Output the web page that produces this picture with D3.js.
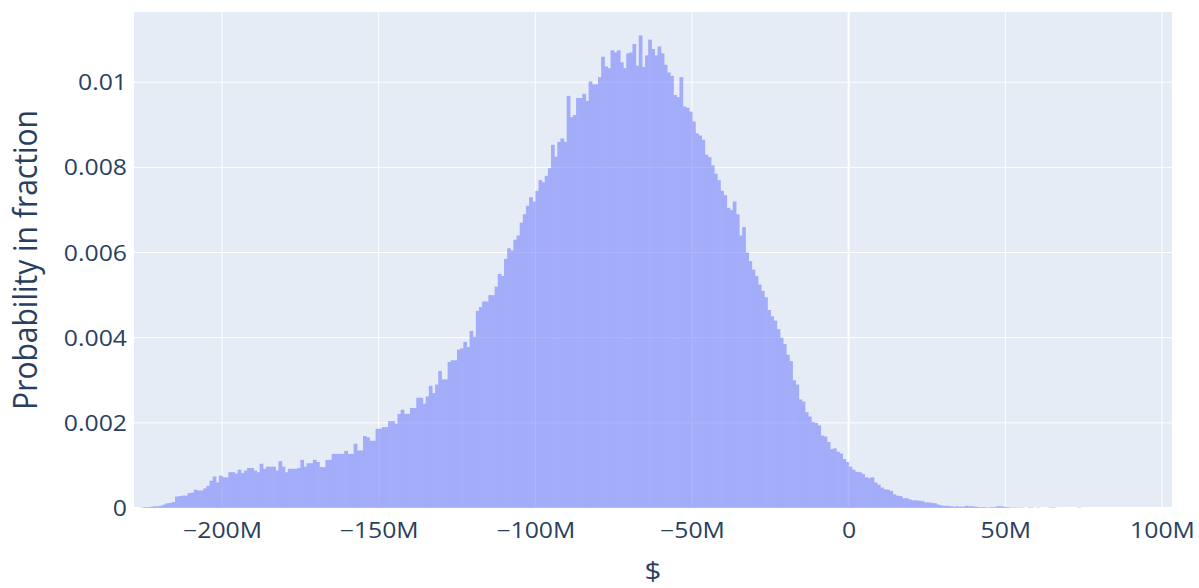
<!DOCTYPE html>
<html>
<head>
<meta charset="utf-8">
<script src="https://cdn.jsdelivr.net/npm/d3@7"></script>
<style>
  html, body { margin: 0; padding: 0; background: #fff; }
  svg { display: block; }
  text { font-family: "Open Sans", "Noto Sans", sans-serif; fill: #2a3f5f; }
</style>
</head>
<body>
<svg id="chart" width="1199" height="588"></svg>
<script>
// Histogram of simulated outcomes ($M), 1M-wide bins starting at -228M.
const binStart = -228;
const binWidth = 1;
// Probability of each bin, in units of 1e-5.
const freqE5 = [
  0,0,1,2,2,3,4,4,5,8,
  11,12,14,27,28,29,29,35,36,43,
  41,41,46,52,64,74,60,76,72,72,
  84,84,81,90,82,88,94,94,88,84,
  104,92,97,97,97,88,110,97,84,92,
  92,92,94,113,97,105,105,113,108,96,
  96,113,113,127,127,127,127,134,127,127,
  151,135,135,169,166,158,158,186,186,190,
  190,204,204,198,221,231,221,221,235,235,
  259,259,245,262,287,270,290,322,302,302,
  343,347,347,372,375,390,378,416,402,463,
  472,485,485,500,500,520,550,545,585,610,
  605,630,640,670,690,710,730,720,745,770,
  765,780,798,853,825,860,868,860,968,918,
  923,963,963,973,956,1002,995,995,1012,1060,
  1037,1033,1075,1070,1075,1047,1033,1068,1070,1090,
  1039,1110,1036,1063,1100,1078,1063,1084,1068,1041,
  1023,1015,970,965,1012,943,940,931,908,880,
  875,865,830,824,805,785,770,745,735,705,
  700,720,690,640,660,600,580,560,545,525,
  510,495,465,450,440,420,400,385,360,345,
  300,290,255,250,225,215,202,200,194,170,
  168,155,138,140,132,128,115,108,97,90,
  85,84,80,72,70,72,60,55,48,44,
  43,40,32,29,28,23,23,20,18,18,
  17,16,13,13,12,11,8,6,5,5,
  4,3,4,3,3,5,4,4,3,2,
  2,2,1,2,2,4,4,3,2,1,
  1,1,1,1,0,1,1,0,1,0,
  0,0,1,1,0,0,0,0,0,0,0,1
];

const xTicks = [-200, -150, -100, -50, 0, 50, 100];
const xTickLabels = ["\u2212200M", "\u2212150M", "\u2212100M", "\u221250M", "0", "50M", "100M"];
const yTicks = [0, 0.002, 0.004, 0.006, 0.008, 0.01];
const yTickLabels = ["0", "0.002", "0.004", "0.006", "0.008", "0.01"];

const xTitle = "$";
const yTitle = "Probability in fraction";

// ---- layout ----
const plot = { left: 134, top: 12, right: 1172, bottom: 508 };
const stretch = 1.18;   // wide lettering

const bins = freqE5.map((f, i) => ({
  x0: binStart + i * binWidth,
  x1: binStart + (i + 1) * binWidth,
  p: f / 1e5
}));

const x = d3.scaleLinear().domain([-228.1, 103.2]).range([plot.left, plot.right]);
const y = d3.scaleLinear().domain([0, 0.01165]).range([plot.bottom, plot.top]);

const svg = d3.select("#chart");

// plot background
svg.append("rect")
  .attr("x", plot.left).attr("y", plot.top)
  .attr("width", plot.right - plot.left)
  .attr("height", plot.bottom - plot.top)
  .attr("fill", "#E5ECF6");

// grid
const grid = svg.append("g").attr("stroke", "#fff");
grid.selectAll("line.gx").data(xTicks).join("line")
  .attr("x1", d => x(d)).attr("x2", d => x(d))
  .attr("y1", plot.top).attr("y2", plot.bottom)
  .attr("stroke-width", d => d === 0 ? 2 : 1);
grid.selectAll("line.gy").data(yTicks).join("line")
  .attr("y1", d => y(d)).attr("y2", d => y(d))
  .attr("x1", plot.left).attr("x2", plot.right)
  .attr("stroke-width", d => d === 0 ? 2 : 1);

// bars
const barG = svg.append("g").attr("opacity", 0.5);
barG.selectAll("rect").data(bins.filter(b => b.p > 0)).join("rect")
  .attr("x", d => x(d.x0))
  .attr("width", d => x(d.x1) - x(d.x0) + 0.6)
  .attr("y", d => y(d.p))
  .attr("height", d => y(0) - y(d.p))
  .attr("fill", "#636efa");

// x axis labels
const xAxis = d3.axisBottom(x).tickValues(xTicks)
  .tickFormat((d, i) => xTickLabels[i]).tickSize(0).tickPadding(0);
const gx = svg.append("g").attr("transform", `translate(0,${plot.bottom})`).call(xAxis);
gx.select(".domain").remove();
gx.selectAll("text")
  .attr("y", 0).attr("dy", 0)
  .attr("transform", `translate(0,30) scale(${stretch},1)`)
  .style("font-size", "21px")
  .style("font-family", "'Open Sans', sans-serif")
  .attr("fill", "#2a3f5f");

// y axis labels
const yAxis = d3.axisLeft(y).tickValues(yTicks)
  .tickFormat((d, i) => yTickLabels[i]).tickSize(0).tickPadding(0);
const gy = svg.append("g").attr("transform", `translate(${plot.left},0)`).call(yAxis);
gy.select(".domain").remove();
gy.selectAll("text")
  .attr("x", 0).attr("dy", 0)
  .attr("transform", `translate(-7,7.5) scale(${stretch},1)`)
  .style("font-size", "21px")
  .style("font-family", "'Open Sans', sans-serif")
  .attr("fill", "#2a3f5f");

// axis titles
svg.append("text")
  .attr("text-anchor", "middle")
  .attr("transform", `translate(${(plot.left + plot.right) / 2},580) scale(${stretch},1)`)
  .style("font-size", "25px")
  .text(xTitle);

svg.append("text")
  .attr("text-anchor", "middle")
  .attr("transform", `translate(37,${(plot.top + plot.bottom) / 2}) scale(1.08,1) rotate(-90)`)
  .style("font-size", "30px")
  .text(yTitle);
</script>
</body>
</html>
